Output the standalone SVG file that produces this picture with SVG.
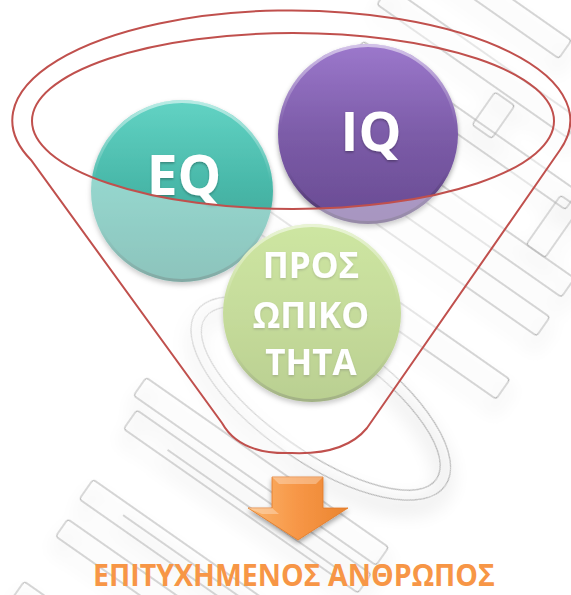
<svg xmlns="http://www.w3.org/2000/svg" width="571" height="595" viewBox="0 0 571 595">
<style>
.wm{fill:none;stroke:#b3b3b3;stroke-width:1.1}
.lbl{font-family:"Open Sans","Noto Sans","DejaVu Sans",sans-serif;font-weight:bold;fill:#ffffff;text-anchor:middle}
.funnel{fill:none;stroke:#c0504d;stroke-width:2}
.rim{fill:none;stroke:url(#rimG);stroke-width:3}
</style>
<defs>
<linearGradient id="tealG" x1="0" y1="0" x2="0" y2="1">
<stop offset="0" stop-color="#62d3c4"/><stop offset="0.5" stop-color="#47b6a7"/><stop offset="1" stop-color="#3a998c"/>
</linearGradient>
<linearGradient id="purpleG" x1="0" y1="0" x2="0" y2="1">
<stop offset="0" stop-color="#9c78cc"/><stop offset="0.5" stop-color="#7c5ca8"/><stop offset="1" stop-color="#684a92"/>
</linearGradient>
<linearGradient id="greenG" x1="0" y1="0" x2="0" y2="1">
<stop offset="0" stop-color="#aad45e"/><stop offset="0.5" stop-color="#9cc253"/><stop offset="1" stop-color="#88ad42"/>
</linearGradient>
<linearGradient id="rimG" x1="0" y1="0" x2="0" y2="1">
<stop offset="0" stop-color="#ffffff" stop-opacity="0.55"/><stop offset="0.45" stop-color="#ffffff" stop-opacity="0"/><stop offset="0.7" stop-color="#000000" stop-opacity="0"/><stop offset="1" stop-color="#000000" stop-opacity="0.3"/>
</linearGradient>
<linearGradient id="arrowG" x1="0" y1="0" x2="1" y2="0">
<stop offset="0" stop-color="#fbb56c"/><stop offset="0.5" stop-color="#f79646"/><stop offset="1" stop-color="#ea8530"/>
</linearGradient>
<filter id="shadow" x="-20%" y="-20%" width="140%" height="150%">
<feDropShadow dx="0" dy="3" stdDeviation="2.5" flood-color="#000000" flood-opacity="0.35"/>
</filter>
<filter id="wmShadow" x="-20%" y="-20%" width="140%" height="140%">
<feMorphology in="SourceAlpha" operator="dilate" radius="3" result="d"/>
<feGaussianBlur in="d" stdDeviation="9" result="b"/>
<feOffset in="b" dx="-10" dy="6" result="o"/>
<feComponentTransfer in="o" result="s"><feFuncA type="linear" slope="0.07"/></feComponentTransfer>
<feMerge><feMergeNode in="s"/><feMergeNode in="SourceGraphic"/></feMerge>
</filter>
<filter id="txtShadow" x="-10%" y="-20%" width="120%" height="150%">
<feDropShadow dx="0" dy="1.5" stdDeviation="1" flood-color="#000000" flood-opacity="0.3"/>
</filter>
</defs>

<rect width="571" height="595" fill="#ffffff"/>

<g id="watermark" transform="translate(0,595) rotate(-55)" filter="url(#wmShadow)">
<rect class="wm" x="2" y="12" width="23" height="280" rx="3"/>
<rect class="wm" x="80" y="12" width="21" height="280" rx="3"/>
<rect class="wm" x="124" y="10" width="24" height="282" rx="3"/>
<line class="wm" x1="136" y1="55" x2="136" y2="250"/>
<rect class="wm" x="207" y="6" width="23" height="286" rx="3"/>
<line class="wm" x1="215" y1="54" x2="215" y2="260"/>
<rect class="wm" x="240" y="-5" width="22" height="296" rx="3"/>
<ellipse class="wm" cx="345" cy="150" rx="64" ry="152"/>
<ellipse class="wm" cx="345" cy="150" rx="53" ry="141"/>
<rect class="wm" x="445" y="0" width="24" height="294" rx="3"/>
<rect class="wm" x="520" y="-2" width="23" height="293" rx="3"/>
<rect class="wm" x="566" y="-8" width="23" height="297" rx="3"/>
<rect class="wm" x="589" y="230" width="60" height="23" rx="3"/>
<rect class="wm" x="640" y="-20" width="22" height="262" rx="3"/>
<rect class="wm" x="656" y="117" width="40" height="24" rx="3"/>
<rect class="wm" x="700" y="-30" width="22" height="232" rx="3"/>
<rect class="wm" x="760" y="-30" width="22" height="180" rx="3"/>
</g>

<g id="node-eq">
<circle cx="182" cy="191" r="91" fill="url(#tealG)" filter="url(#shadow)"/>
<circle class="rim" cx="182" cy="191" r="89.5"/>
<text class="lbl" x="184" y="195" font-size="55" filter="url(#txtShadow)">EQ</text>
</g>
<g id="node-iq">
<circle cx="368" cy="134" r="90" fill="url(#purpleG)" filter="url(#shadow)"/>
<circle class="rim" cx="368" cy="134" r="88.5"/>
<text class="lbl" x="371" y="151" font-size="54" filter="url(#txtShadow)">IQ</text>
</g>
<g id="node-personality">
<circle cx="312" cy="313" r="89" fill="url(#greenG)" filter="url(#shadow)"/>
<circle class="rim" cx="312" cy="313" r="87.5"/>
<text class="lbl" x="311" y="278" font-size="35" filter="url(#txtShadow)">ΠΡΟΣ</text>
<text class="lbl" x="311" y="328" font-size="35" filter="url(#txtShadow)">ΩΠΙΚΟ</text>
<text class="lbl" x="311" y="375" font-size="35" filter="url(#txtShadow)">ΤΗΤΑ</text>
</g>

<g id="funnel">
<path d="M31,160 A279,110 0 1,1 560,150 L367,428 Q345,455 292,453 Q240,455 222,423 Z M32,121 A261,88 0 1,0 554,121 A261,88 0 1,0 32,121 Z" fill="#ffffff" fill-opacity="0.42" fill-rule="evenodd"/>
<path class="funnel" d="M31,160 A279,110 0 1,1 560,150 L367,428 Q345,455 292,453 Q240,455 222,423 Z"/>
<ellipse class="funnel" cx="293" cy="121" rx="261" ry="88"/>
</g>

<g id="connectors">
<path d="M272,477 H323 V508 H348 L298,540 L248,508 H272 Z" fill="url(#arrowG)" stroke="#e27a26" stroke-width="0.8" filter="url(#shadow)"/>
<path d="M272,477 H323 L316,484 H279 Z" fill="#ffffff" fill-opacity="0.3"/>
<path d="M248,508 H272 L279,514 H262 Z" fill="#ffffff" fill-opacity="0.3"/>
</g>

<g id="node-result">
<text x="93" y="586" font-family="Open Sans,Noto Sans,DejaVu Sans,sans-serif" font-weight="bold" font-size="30" fill="#f79646" textLength="402" lengthAdjust="spacingAndGlyphs">ΕΠΙΤΥΧΗΜΕΝΟΣ ΑΝΘΡΩΠΟΣ</text>
</g>
</svg>
